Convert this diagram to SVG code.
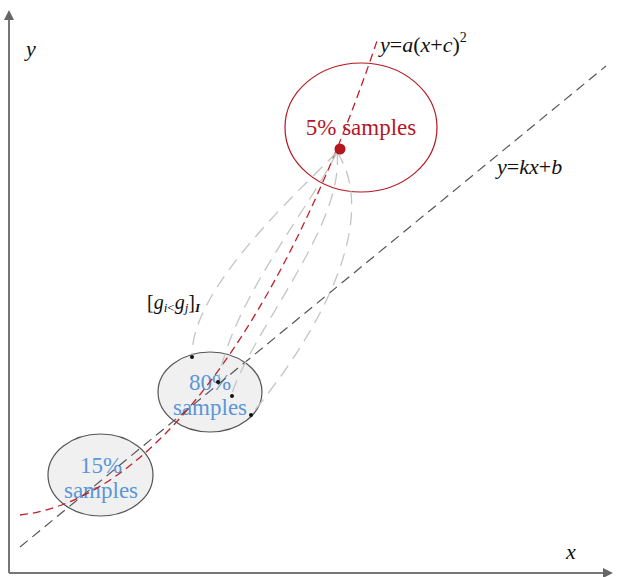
<svg xmlns="http://www.w3.org/2000/svg" width="621" height="577" viewBox="0 0 621 577" font-family="'Liberation Serif', 'Times New Roman', serif">
<style>
.it{font-style:italic;}
.blue{fill:#5b96d8;font-size:23px;}
.grey{fill:none;stroke:#c4c4c4;stroke-width:1.3;stroke-dasharray:13 8;}
.ell{fill:#f0f0f0;stroke:#555;stroke-width:1.2;}
.dot{fill:#111;}
</style>
<defs>
<marker id="arr" markerWidth="10" markerHeight="10" refX="8" refY="5" orient="auto" markerUnits="userSpaceOnUse">
<path d="M0,0 L10,5 L0,10 Z" fill="#666"/>
</marker>
</defs>
<g id="axes">
<line x1="9" y1="573" x2="9" y2="12" stroke="#777" stroke-width="2" marker-end="url(#arr)"/>
<line x1="9" y1="573" x2="611" y2="573" stroke="#777" stroke-width="2" marker-end="url(#arr)"/>
<text class="it" x="26" y="56" font-size="22" fill="#111">y</text>
<text class="it" x="566" y="559" font-size="22" fill="#111">x</text>
</g>
<g id="node-5pct">
<ellipse cx="361" cy="127.5" rx="76" ry="64.5" fill="none" stroke="#b5171f" stroke-width="1.2"/>
<text x="361" y="135" font-size="23" fill="#b5171f" text-anchor="middle">5% samples</text>
</g>
<g id="node-80pct">
<ellipse class="ell" cx="210" cy="392" rx="52" ry="40"/>
<text class="blue" x="210" y="390" text-anchor="middle">80%</text>
<text class="blue" x="210" y="415" text-anchor="middle">samples</text>
</g>
<g id="node-15pct">
<ellipse class="ell" cx="100.5" cy="475" rx="52.5" ry="41"/>
<text class="blue" x="101" y="473" text-anchor="middle">15%</text>
<text class="blue" x="101" y="498" text-anchor="middle">samples</text>
</g>
<g id="connectors">
<line x1="20" y1="547" x2="606" y2="66" stroke="#555" stroke-width="1.2" stroke-dasharray="10 6"/>
<path d="M20,515 C150,500 280,330 378,38" fill="none" stroke="#c0202a" stroke-width="1.3" stroke-dasharray="8 5"/>
<path class="grey" d="M337,152 C295,195 190,290 192,357"/>
<path class="grey" d="M337,152 C312,205 232,300 218,382"/>
<path class="grey" d="M337,152 C345,225 252,330 231,396"/>
<path class="grey" d="M337,152 C372,205 345,300 251,415"/>
<circle cx="340" cy="149" r="5.5" fill="#b5171f"/>
<circle class="dot" cx="192" cy="357" r="2"/>
<circle class="dot" cx="218" cy="382" r="2"/>
<circle class="dot" cx="232" cy="396" r="2"/>
<circle class="dot" cx="251" cy="415" r="2"/>
</g>
<g id="labels">
<text x="380" y="52" font-size="22" fill="#111"><tspan class="it">y</tspan>=<tspan class="it">a</tspan>(<tspan class="it">x</tspan>+<tspan class="it">c</tspan>)<tspan font-size="14" dy="-10">2</tspan></text>
<text x="497" y="174" font-size="22" fill="#111"><tspan class="it">y</tspan>=<tspan class="it">kx</tspan>+<tspan class="it">b</tspan></text>
<text x="147" y="309" font-size="20" fill="#111">[<tspan class="it">g</tspan><tspan class="it" font-size="13" dy="3">i</tspan><tspan font-size="13">&lt;</tspan><tspan class="it" dy="-3">g</tspan><tspan class="it" font-size="13" dy="3">j</tspan><tspan dy="-3">]</tspan><tspan class="it" font-size="13" font-weight="bold" dy="3">I</tspan></text>
</g>
</svg>
